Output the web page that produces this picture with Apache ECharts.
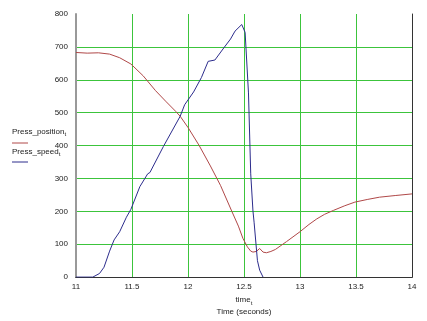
<!DOCTYPE html>
<html><head><meta charset="utf-8">
<script src="https://cdn.jsdelivr.net/npm/echarts@6/dist/echarts.min.js"></script>
<style>html,body{margin:0;padding:0;background:#fff}#c{width:427px;height:321px}</style>
</head><body><div id="c"></div>
<script>
// Press_position (red)
const posT = [11.0, 11.1, 11.2, 11.3, 11.39, 11.49, 11.6, 11.71, 11.8, 11.89, 11.93, 12.0, 12.1, 12.2, 12.29, 12.39, 12.45, 12.49, 12.53, 12.56, 12.58, 12.61, 12.64, 12.67, 12.70, 12.74, 12.78, 12.88, 13.0, 13.08, 13.15, 13.22, 13.3, 13.4, 13.49, 13.6, 13.71, 13.85, 14.0];
const posV = [683, 681, 682, 678, 667, 648, 612, 567, 535, 504, 489, 455, 400, 338, 279, 201, 155, 118, 92, 79, 76, 78, 87, 76, 74, 78, 84, 108, 138, 160, 177, 191, 203, 217, 228, 236, 243, 248, 253];
// Press_speed (blue)
const spdT = [11.0, 11.15, 11.21, 11.25, 11.30, 11.34, 11.39, 11.45, 11.49, 11.57, 11.64, 11.66, 11.78, 11.93, 11.97, 12.05, 12.12, 12.18, 12.24, 12.32, 12.38, 12.42, 12.48, 12.51, 12.54, 12.56, 12.58, 12.59, 12.62, 12.64, 12.67];
const spdV = [0, 0, 11, 30, 79, 113, 138, 182, 206, 275, 314, 318, 397, 489, 524, 563, 607, 656, 660, 697, 724, 748, 768, 744, 560, 314, 201, 167, 50, 21, 0];
const xTicks = [11, 11.5, 12, 12.5, 13, 13.5, 14];
const yTicks = [0, 100, 200, 300, 400, 500, 600, 700, 800];
const seriesNames = ['Press_position', 'Press_speed'];

const chart = echarts.init(document.getElementById('c'));
const zip = (a, b) => a.map((t, i) => [t, b[i]]);
const font = 'Liberation Sans';
const green = '#3cc43c';
chart.setOption({
  animation: false,
  backgroundColor: '#fff',
  grid: {left: 76, right: 15, top: 14, bottom: 34},
  xAxis: [{
    type: 'value', min: 11, max: 14, interval: 0.5,
    axisLine: {lineStyle: {color: '#333', width: 1}},
    axisTick: {show: false},
    splitLine: {showMinLine: false, showMaxLine: false, lineStyle: {color: green, width: 1}},
    axisLabel: {color: '#222', fontSize: 8, fontFamily: font, margin: 6,
      formatter: v => xTicks.includes(v) ? String(v) : ''},
    name: '{a|time}{s|t}\n{b|Time (seconds)}',
    nameLocation: 'middle', nameGap: 16,
    nameTextStyle: {rich: {
      a: {fontSize: 8, fontFamily: font, color: '#222', lineHeight: 12},
      s: {fontSize: 6, fontFamily: font, color: '#222', verticalAlign: 'bottom', padding: [4,0,0,0]},
      b: {fontSize: 8, fontFamily: font, color: '#222', lineHeight: 12}
    }}
  }, {
    type: 'value', position: 'top', min: 11, max: 14,
    axisLine: {show: true, lineStyle: {color: '#333', width: 1}},
    axisTick: {show: false}, axisLabel: {show: false}, splitLine: {show: false}
  }],
  yAxis: [{
    type: 'value', min: 0, max: 800, interval: 100,
    axisLine: {show: true, lineStyle: {color: '#999', width: 2}},
    axisTick: {show: false},
    splitLine: {showMinLine: false, showMaxLine: false, lineStyle: {color: green, width: 1}},
    axisLabel: {color: '#222', fontSize: 8, fontFamily: font, margin: 8,
      formatter: v => yTicks.includes(v) ? String(v) : ''}
  }, {
    type: 'value', position: 'right', min: 0, max: 800,
    axisLine: {show: true, lineStyle: {color: '#333', width: 1}},
    axisTick: {show: false}, axisLabel: {show: false}, splitLine: {show: false}
  }],
  graphic: [
    {type: 'text', left: 12, top: 128, style: {text: '{a|' + seriesNames[0] + '}{s|t}', rich: {
      a: {fontSize: 8, fontFamily: font, fill: '#222'}, s: {fontSize: 6, fontFamily: font, fill: '#222', padding: [5,0,0,0]}}}},
    {type: 'line', shape: {x1: 12, y1: 143, x2: 28, y2: 143}, style: {stroke: '#b04848', lineWidth: 1}},
    {type: 'text', left: 12, top: 148, style: {text: '{a|' + seriesNames[1] + '}{s|t}', rich: {
      a: {fontSize: 8, fontFamily: font, fill: '#222'}, s: {fontSize: 6, fontFamily: font, fill: '#222', padding: [5,0,0,0]}}}},
    {type: 'line', shape: {x1: 12, y1: 162, x2: 28, y2: 162}, style: {stroke: '#2c2c8c', lineWidth: 1}}
  ],
  series: [
    {name: seriesNames[0], type: 'line', data: zip(posT, posV), showSymbol: false,
     lineStyle: {color: '#b04848', width: 1}, z: 3},
    {name: seriesNames[1], type: 'line', data: zip(spdT, spdV), showSymbol: false,
     lineStyle: {color: '#2c2c8c', width: 1}, z: 4}
  ]
});
</script></body></html>
